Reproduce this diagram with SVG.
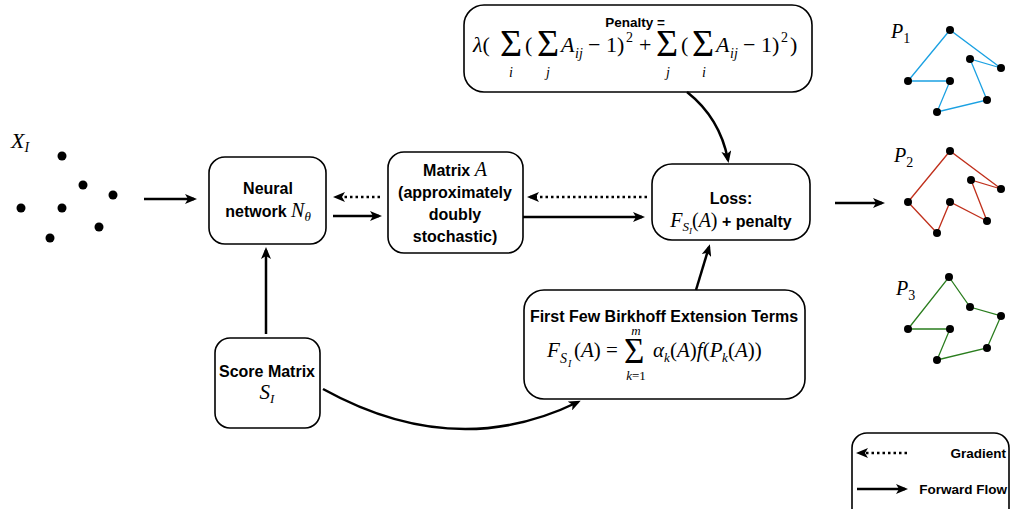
<svg xmlns="http://www.w3.org/2000/svg" width="1013" height="509" viewBox="0 0 1013 509">
<style>
.box{fill:#fff;stroke:#000;stroke-width:1.6}
.lbl{font-family:"Liberation Sans",Arial,sans-serif;font-weight:bold;font-size:16px;fill:#000}
.sm{font-size:13.5px}
.m{font-family:"Liberation Serif","Times New Roman",serif;font-style:italic;fill:#000}
.r{font-family:"Liberation Serif","Times New Roman",serif;font-style:normal;fill:#000}
.sig{font-family:"Liberation Serif","Times New Roman",serif;fill:#000}
.c{fill:none;stroke:#000;stroke-width:2.5}
.dot{stroke-dasharray:2.5 3}
.pt{fill:#000}
.e1{fill:none;stroke:#1ba1e2;stroke-width:1.3}
.e2{fill:none;stroke:#c0301c;stroke-width:1.3}
.e3{fill:none;stroke:#2a7d1e;stroke-width:1.3}
</style>
<defs>
<marker id="ah" viewBox="0 0 12 10" refX="9" refY="5" markerWidth="12" markerHeight="10" markerUnits="userSpaceOnUse" orient="auto"><path d="M0,0 L12,5 L0,10 L3,5 Z" fill="#000"/></marker>
</defs>

<g id="input">
<text class="m" x="11" y="148" font-size="22">X<tspan font-size="14" dy="4">I</tspan></text>
<circle class="pt" cx="62" cy="156" r="4.5"/>
<circle class="pt" cx="83" cy="185" r="4.5"/>
<circle class="pt" cx="113" cy="195" r="4.5"/>
<circle class="pt" cx="21" cy="208" r="4.5"/>
<circle class="pt" cx="62" cy="208" r="4.5"/>
<circle class="pt" cx="99" cy="227" r="4.5"/>
<circle class="pt" cx="50" cy="238" r="4.5"/>
</g>

<g id="neural">
<rect class="box" x="209" y="157" width="117" height="87" rx="16"/>
<text class="lbl" x="268" y="194" text-anchor="middle">Neural</text>
<text class="lbl" x="268" y="217" text-anchor="middle">network <tspan class="m" font-weight="normal" font-size="20">N</tspan><tspan class="m" font-weight="normal" font-size="13" dy="4">θ</tspan></text>
</g>

<g id="matrixA">
<rect class="box" x="388" y="152" width="135" height="101" rx="16"/>
<text class="lbl" x="455" y="176" text-anchor="middle">Matrix <tspan class="m" font-weight="normal" font-size="20">A</tspan></text>
<text class="lbl" x="455" y="198" text-anchor="middle">(approximately</text>
<text class="lbl" x="455" y="220" text-anchor="middle">doubly</text>
<text class="lbl" x="455" y="242" text-anchor="middle">stochastic)</text>
</g>

<g id="loss">
<rect class="box" x="652" y="164" width="158" height="76" rx="20"/>
<text class="lbl" x="731" y="204" text-anchor="middle">Loss:</text>
<text class="lbl" x="731" y="227" text-anchor="middle"><tspan class="m" font-weight="normal" font-size="20">F</tspan><tspan class="m" font-weight="normal" font-size="13" dy="4">S</tspan><tspan class="m" font-weight="normal" font-size="9" dy="3">I</tspan><tspan class="r" font-weight="normal" font-size="20" dy="-7">(<tspan class="m">A</tspan>)</tspan> + penalty</text>
</g>

<g id="penalty">
<rect class="box" x="464" y="5" width="348" height="87" rx="20"/>
<text class="lbl sm" x="635" y="27" text-anchor="middle">Penalty =</text>
<text class="m" x="473" y="52" font-size="22">λ<tspan class="r">(</tspan></text>
<text class="sig" x="500" y="56" font-size="38">Σ</text>
<text class="m" x="511" y="77" font-size="14" text-anchor="middle">i</text>
<text class="r" x="525" y="52" font-size="22">(</text>
<text class="sig" x="537" y="56" font-size="38">Σ</text>
<text class="m" x="548" y="77" font-size="14" text-anchor="middle">j</text>
<text class="m" x="561" y="52" font-size="22">A</text>
<text class="m" x="575" y="58" font-size="14">ij</text>
<text class="r" x="588" y="52" font-size="22">− 1)</text>
<text class="r" x="626" y="42" font-size="14">2</text>
<text class="r" x="639" y="52" font-size="22">+</text>
<text class="sig" x="656" y="56" font-size="38">Σ</text>
<text class="m" x="668" y="77" font-size="14" text-anchor="middle">j</text>
<text class="r" x="681" y="52" font-size="22">(</text>
<text class="sig" x="692" y="56" font-size="38">Σ</text>
<text class="m" x="704" y="77" font-size="14" text-anchor="middle">i</text>
<text class="m" x="716" y="52" font-size="22">A</text>
<text class="m" x="730" y="58" font-size="14">ij</text>
<text class="r" x="743" y="52" font-size="22">− 1)</text>
<text class="r" x="781" y="42" font-size="14">2</text>
<text class="r" x="790" y="52" font-size="22">)</text>
</g>

<g id="score">
<rect class="box" x="215" y="338" width="105" height="90" rx="15"/>
<text class="lbl" x="267" y="377" text-anchor="middle">Score Matrix</text>
<text class="m" x="267" y="399" text-anchor="middle" font-size="21">S<tspan font-size="13" dy="4">I</tspan></text>
</g>

<g id="birkhoff">
<rect class="box" x="524" y="290" width="281" height="109" rx="20"/>
<text class="lbl" x="664" y="322" text-anchor="middle">First Few Birkhoff Extension Terms</text>
<text class="m" x="547" y="357" font-size="21">F</text>
<text class="m" x="560" y="363" font-size="14">S</text>
<text class="m" x="568" y="367" font-size="10">I</text>
<text class="r" x="574" y="357" font-size="21">(<tspan class="m">A</tspan>) =</text>
<text class="sig" x="624" y="363" font-size="35">Σ</text>
<text class="m" x="636" y="335" font-size="13" text-anchor="middle">m</text>
<text class="m" x="636" y="380" font-size="13" text-anchor="middle">k<tspan class="r">=1</tspan></text>
<text class="m" x="653" y="357" font-size="21">α</text>
<text class="m" x="664" y="362" font-size="13">k</text>
<text class="r" x="670" y="357" font-size="21">(<tspan class="m">A</tspan>)<tspan class="m">f</tspan>(<tspan class="m">P</tspan></text>
<text class="m" x="722" y="362" font-size="13">k</text>
<text class="r" x="728" y="357" font-size="21">(<tspan class="m">A</tspan>))</text>
</g>

<g id="P1">
<text class="m" x="891" y="38" font-size="20">P<tspan class="r" font-size="14" dy="5">1</tspan></text>
<polyline class="e1" points="908,81 950,30 1001,68 970,59 987,100 937,112 950,81 908,81"/>
<circle class="pt" cx="950" cy="30" r="4"/><circle class="pt" cx="970" cy="59" r="4"/><circle class="pt" cx="1001" cy="68" r="4"/>
<circle class="pt" cx="908" cy="81" r="4"/><circle class="pt" cx="950" cy="81" r="4"/><circle class="pt" cx="987" cy="100" r="4"/><circle class="pt" cx="937" cy="112" r="4"/>
</g>

<g id="P2">
<text class="m" x="894" y="162" font-size="20">P<tspan class="r" font-size="14" dy="5">2</tspan></text>
<polyline class="e2" points="908,202 950,151 1001,189 971,180 987,221 950,202 937,233 908,202"/>
<circle class="pt" cx="950" cy="151" r="4"/><circle class="pt" cx="971" cy="180" r="4"/><circle class="pt" cx="1001" cy="189" r="4"/>
<circle class="pt" cx="908" cy="202" r="4"/><circle class="pt" cx="950" cy="202" r="4"/><circle class="pt" cx="987" cy="221" r="4"/><circle class="pt" cx="937" cy="233" r="4"/>
</g>

<g id="P3">
<text class="m" x="896" y="295" font-size="20">P<tspan class="r" font-size="14" dy="5">3</tspan></text>
<polyline class="e3" points="908,329 949,277 970,307 1001,316 987,348 937,360 950,329 908,329"/>
<circle class="pt" cx="949" cy="277" r="4"/><circle class="pt" cx="970" cy="307" r="4"/><circle class="pt" cx="1001" cy="316" r="4"/>
<circle class="pt" cx="908" cy="329" r="4"/><circle class="pt" cx="950" cy="329" r="4"/><circle class="pt" cx="987" cy="348" r="4"/><circle class="pt" cx="937" cy="360" r="4"/>
</g>

<g id="legend">
<rect class="box" x="852" y="433" width="157" height="95" rx="15"/>
<path class="c dot" d="M907,453 L859,453" marker-end="url(#ah)"/>
<text class="lbl sm" x="1006" y="458" text-anchor="end">Gradient</text>
<path class="c" d="M857,489 L905,489" marker-end="url(#ah)"/>
<text class="lbl sm" x="1007" y="494" text-anchor="end">Forward Flow</text>
</g>

<g id="connectors">
<path class="c" d="M144,199 L194,199" marker-end="url(#ah)"/>
<path class="c" d="M333,216 L379,216" marker-end="url(#ah)"/>
<path class="c dot" d="M380,197 L336,197" marker-end="url(#ah)"/>
<path class="c" d="M523,217 L642,217" marker-end="url(#ah)"/>
<path class="c dot" d="M647,197 L530,197" marker-end="url(#ah)"/>
<path class="c" d="M687,92 Q720,118 728,160" marker-end="url(#ah)"/>
<path class="c" d="M696,290 L709,247" marker-end="url(#ah)"/>
<path class="c" d="M266,334 L266,250" marker-end="url(#ah)"/>
<path class="c" d="M323,389 Q455,462 578,402" marker-end="url(#ah)"/>
<path class="c" d="M835,203 L882,203" marker-end="url(#ah)"/>
</g>
</svg>
